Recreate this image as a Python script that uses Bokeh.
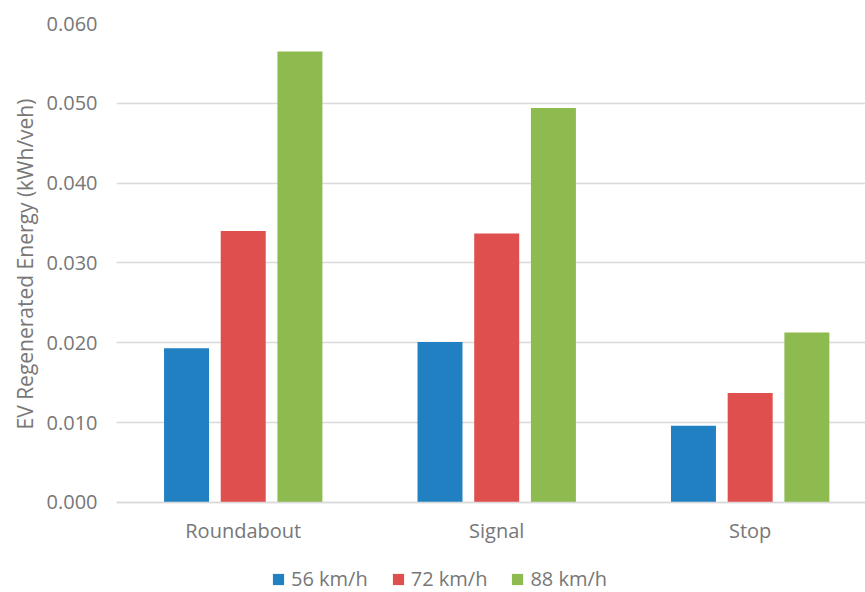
from bokeh.plotting import figure
from bokeh.models import (ColumnDataSource, Range1d, FixedTicker, NumeralTickFormatter,
                          Legend, LegendItem, Title)
from bokeh.transform import dodge
from bokeh.embed import file_html
from bokeh.resources import INLINE

categories = ["Roundabout", "Signal", "Stop"]
series_names = ["56 km/h", "72 km/h", "88 km/h"]
v56 = [0.0193, 0.0201, 0.0096]
v72 = [0.0340, 0.0337, 0.0137]
v88 = [0.0565, 0.0494, 0.0213]
y_ticks = [0.0, 0.01, 0.02, 0.03, 0.04, 0.05, 0.06]
y_title = "EV Regenerated Energy (kWh/veh)"

colors = ["#2180C2", "#DE4F4D", "#8DBB4F"]
TEXT = "#777777"
GRID = "#D9D9D9"
FONT = "Open Sans"
FS = "20px"

xpos = [i + 0.5 for i in range(len(categories))]
source = ColumnDataSource(data=dict(x=xpos, v56=v56, v72=v72, v88=v88))

# frame spans down to the bottom of the picture; the zero line sits ~90px above it
p = figure(width=865, height=592, output_backend="svg", toolbar_location=None,
           x_range=Range1d(0, 2.955), y_range=Range1d(-0.01129, 0.06),
           min_border_left=116, min_border_right=0, min_border_top=23, min_border_bottom=0)
p.outline_line_color = None
p.background_fill_color = "white"
p.border_fill_color = "white"

offsets = [-0.2237, 0.0, 0.2237]
renderers = []
for col, off, c in zip(["v56", "v72", "v88"], offsets, colors):
    r = p.vbar(x=dodge("x", off, range=p.x_range), top=col, width=0.1775, bottom=0,
               source=source, fill_color=c, line_color=None)
    renderers.append(r)

p.xaxis.fixed_location = 0
p.xaxis.ticker = FixedTicker(ticks=xpos)
p.xaxis.major_label_overrides = {x: c for x, c in zip(xpos, categories)}
p.xaxis.major_tick_line_color = None
p.xaxis.major_tick_out = 0
p.xaxis.minor_tick_line_color = None
p.xaxis.axis_line_color = GRID
p.xaxis.axis_line_width = 1.5
p.xaxis.major_label_standoff = 15
p.xaxis.major_label_text_font = FONT
p.xaxis.major_label_text_font_size = FS
p.xaxis.major_label_text_color = TEXT

p.yaxis.ticker = FixedTicker(ticks=y_ticks)
p.yaxis.formatter = NumeralTickFormatter(format="0.000")
p.yaxis.major_tick_line_color = None
p.yaxis.major_tick_out = 0
p.yaxis.minor_tick_line_color = None
p.yaxis.axis_line_color = None
p.yaxis.major_label_standoff = 19
p.yaxis.major_label_text_font = FONT
p.yaxis.major_label_text_font_size = FS
p.yaxis.major_label_text_color = TEXT

# y-axis title, centred on the value axis (0 .. 0.060), not on the whole frame
p.add_layout(Title(text=y_title, align="left", offset=163, standoff=10,
                   text_font=FONT, text_font_size="21px", text_font_style="normal",
                   text_color=TEXT), "left")

p.xgrid.grid_line_color = None
p.ygrid.grid_line_color = GRID
p.ygrid.grid_line_width = 1.5

legend = Legend(items=[LegendItem(label=n, renderers=[r]) for n, r in zip(series_names, renderers)],
                orientation="horizontal", location=(155, 0),
                glyph_width=14, glyph_height=14, label_standoff=6, spacing=23,
                padding=0, margin=0, border_line_color=None, background_fill_alpha=0,
                label_text_font=FONT, label_text_font_size=FS, label_text_color=TEXT)
p.add_layout(legend, "center")

open("out.html", "w").write(file_html(p, INLINE))
